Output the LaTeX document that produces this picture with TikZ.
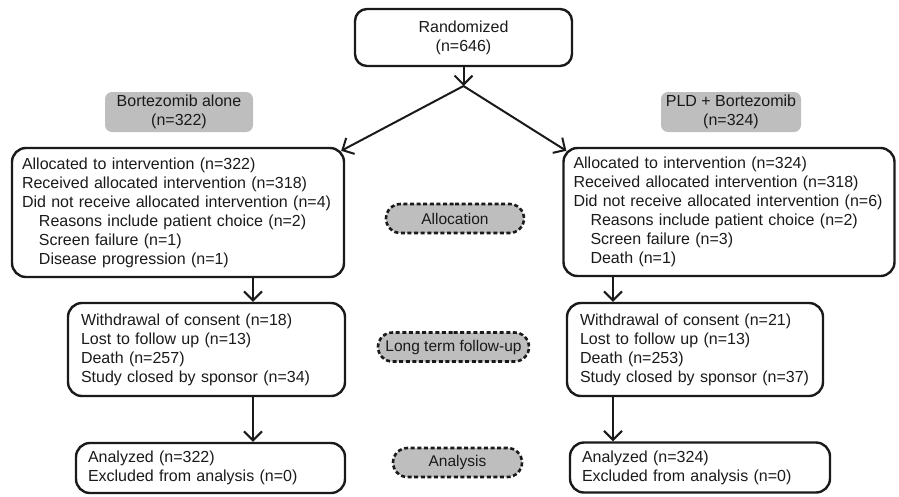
\documentclass[tikz,border=0pt]{standalone}
\usepackage{fontspec}
\setmainfont{Liberation Sans}
\usetikzlibrary{arrows.meta,shapes.misc,calc}
\definecolor{boxgray}{HTML}{BEBEBE}
\definecolor{ink}{HTML}{1A1A1A}
\begin{document}
\begin{tikzpicture}[x=1pt,y=-1pt,
  every node/.style={font=\fontsize{16}{19}\selectfont, text=ink},
  flowbox/.style={draw=ink, line width=2.4pt, rounded corners=14pt, align=left, inner ysep=0pt},
  titlebox/.style={draw=ink, line width=2.4pt, rounded corners=12pt, align=center},
  armbox/.style={fill=boxgray, rounded corners=7pt, align=center, minimum height=40pt, inner ysep=0pt},
  phase/.style={rounded rectangle, draw=ink, fill=boxgray, line width=2.6pt,
    font=\fontsize{15.5}{19}\selectfont,
    dash pattern=on 4pt off 2.6pt, inner ysep=0pt, inner xsep=1pt, minimum height=29pt},
  conn/.style={draw=ink, line width=2pt, -{Straight Barb[length=9pt,width=18pt]}},
]
\useasboundingbox (0,0) rectangle (899,496);

% top
\node[titlebox, minimum width=217pt, minimum height=57pt] (rand) at (463.5,37.5)
  {Randomized\\(n=646)};
\coordinate (split) at (463.5,86);

% arm labels
\node[armbox, minimum width=148pt] (armL) at (179,112) {Bortezomib alone\\(n=322)};
\node[armbox, minimum width=140pt] (armR) at (731,112) {PLD + Bortezomib\\(n=324)};

% allocation boxes
\node[flowbox, minimum width=332pt, minimum height=129pt, text width=312pt, inner xsep=10pt]
  (allocL) at (178,212.5)
  {Allocated to intervention (n=322)\\
   Received allocated intervention (n=318)\\
   Did not receive allocated intervention (n=4)\\
   \hspace*{17pt}Reasons include patient choice (n=2)\\
   \hspace*{17pt}Screen failure (n=1)\\
   \hspace*{17pt}Disease progression (n=1)};
\node[flowbox, minimum width=331pt, minimum height=128pt, text width=311pt, inner xsep=10pt]
  (allocR) at (729,212)
  {Allocated to intervention (n=324)\\
   Received allocated intervention (n=318)\\
   Did not receive allocated intervention (n=6)\\
   \hspace*{17pt}Reasons include patient choice (n=2)\\
   \hspace*{17pt}Screen failure (n=3)\\
   \hspace*{17pt}Death (n=1)};

% follow-up boxes
\node[flowbox, minimum width=277pt, minimum height=93pt, text width=251pt, inner xsep=13pt]
  (fuL) at (206.5,349.5)
  {Withdrawal of consent (n=18)\\
   Lost to follow up (n=13)\\
   Death (n=257)\\
   Study closed by sponsor (n=34)};
\node[flowbox, minimum width=256pt, minimum height=93pt, text width=230pt, inner xsep=13pt]
  (fuR) at (695,349.5)
  {Withdrawal of consent (n=21)\\
   Lost to follow up (n=13)\\
   Death (n=253)\\
   Study closed by sponsor (n=37)};

% analysis boxes
\node[flowbox, minimum width=269pt, minimum height=50pt, text width=245pt, inner xsep=12pt]
  (anL) at (210.5,468)
  {Analyzed (n=322)\\
   Excluded from analysis (n=0)};
\node[flowbox, minimum width=260pt, minimum height=50pt, text width=236pt, inner xsep=12pt]
  (anR) at (700,467.5)
  {Analyzed (n=324)\\
   Excluded from analysis (n=0)};

% phase labels
\node[phase, minimum width=140pt] (pAlloc) at (455,218.5) {Allocation};
\node[phase, minimum width=153pt] (pFollow) at (453.5,347) {Long term follow-up};
\node[phase, minimum width=131pt] (pAnal) at (457.5,462.5) {Analysis};

% connectors
\coordinate (tipL) at ($(allocL.north east)+(-4,4)$);
\coordinate (tipR) at ($(allocR.north west)+(4,4)$);
\draw[conn] (rand.south) -- (split);
\draw[conn] (split) -- (tipL);
\draw[conn] (split) -- (tipR);

\coordinate (aLb) at (allocL.south -| 253,0);
\coordinate (fLt) at (fuL.north -| 253,0);
\coordinate (fLb) at (fuL.south -| 253,0);
\coordinate (nLt) at (anL.north -| 253,0);
\draw[conn] (aLb) -- (fLt);
\draw[conn] (fLb) -- (nLt);

\coordinate (aRb) at (allocR.south -| 613,0);
\coordinate (fRt) at (fuR.north -| 613,0);
\coordinate (fRb) at (fuR.south -| 613,0);
\coordinate (nRt) at (anR.north -| 613,0);
\draw[conn] (aRb) -- (fRt);
\draw[conn] (fRb) -- (nRt);
\end{tikzpicture}
\end{document}
